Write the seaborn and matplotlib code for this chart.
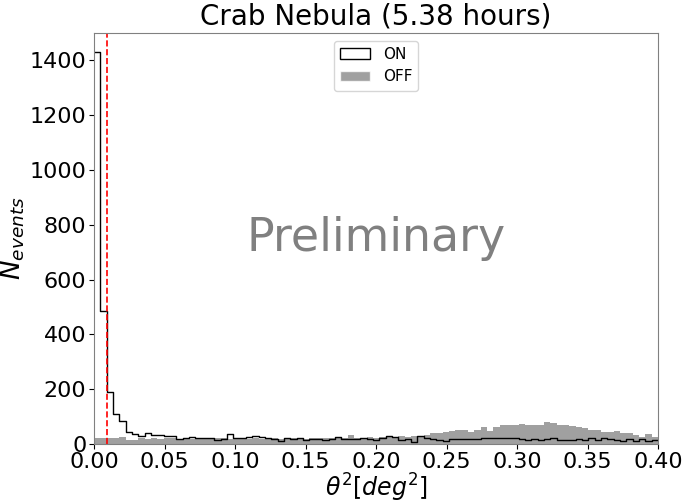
import numpy as np
import pandas as pd
import matplotlib
matplotlib.use("Agg")
import matplotlib.pyplot as plt
from matplotlib.patches import Patch
import seaborn as sns

# theta^2 binning: 89 bins from 0 to 0.4
bin_edges = np.linspace(0, 0.4, 90)
theta2_cut = 0.009

on_counts = [
    1430, 487, 188, 109, 85, 42, 35, 29, 40, 32,
    33, 30, 27, 17, 20, 25, 20, 21, 20, 15,
    17, 36, 20, 22, 26, 27, 24, 22, 19, 11,
    20, 18, 20, 14, 17, 17, 16, 18, 25, 17,
    18, 17, 20, 19, 15, 23, 27, 26, 16, 19,
    8, 27, 21, 19, 14, 12, 17, 17, 18, 18,
    17, 20, 22, 21, 22, 20, 22, 17, 15, 18,
    16, 17, 22, 14, 15, 15, 17, 13, 20, 15,
    20, 18, 14, 12, 17, 10, 18, 12, 14,
]

off_counts = [
    22, 23, 21, 22, 24, 14, 13, 20, 18, 22,
    19, 21, 20, 17, 22, 19, 20, 21, 18, 20,
    22, 19, 21, 20, 18, 21, 19, 22, 20, 19,
    21, 20, 22, 19, 21, 23, 20, 22, 24, 21,
    33, 23, 22, 25, 21, 24, 26, 24, 28, 25,
    30, 27, 32, 40, 38, 45, 46, 51, 50, 45,
    51, 61, 48, 61, 69, 69, 69, 73, 69, 69,
    69, 79, 75, 69, 69, 65, 63, 57, 51, 51,
    45, 45, 48, 39, 39, 33, 24, 36, 24,
]

centers = 0.5 * (bin_edges[:-1] + bin_edges[1:])
df = pd.DataFrame({"theta2": centers, "on": on_counts, "off": off_counts})

sns.set_style("ticks", {"text.color": "black", "axes.labelcolor": "black",
                        "xtick.color": "black", "ytick.color": "black"})
fig, ax = plt.subplots(figsize=(6.84, 5.01), dpi=100)

sns.histplot(data=df, x="theta2", weights="off", bins=list(bin_edges), element="step",
             fill=True, color="grey", alpha=0.75, linewidth=0, ax=ax)
sns.histplot(data=df, x="theta2", weights="on", bins=list(bin_edges), element="step",
             fill=False, color="black", linewidth=1.0, ax=ax)

ax.axvline(theta2_cut, color="red", linestyle="--", linewidth=1.2)

ax.set_xlim(0, 0.4)
ax.set_ylim(0, 1500)
ax.set_xticks(np.arange(0, 0.401, 0.05))
ax.set_xticklabels([f"{v:.2f}" for v in np.arange(0, 0.401, 0.05)])
ax.tick_params(labelsize=16, pad=2)

ax.set_title("Crab Nebula (5.38 hours)", fontsize=20, color="black")
ax.set_xlabel(r"$\theta^2 [deg^2]$", fontsize=17, labelpad=0)
ax.set_ylabel(r"$N_{events}$", fontsize=19, labelpad=2)

for sp in ax.spines.values():
    sp.set_visible(True)
    sp.set_color("0.5")

ax.text(0.5, 0.5, "Preliminary", transform=ax.transAxes, fontsize=33,
        color="grey", ha="center", va="center")

handles = [Patch(facecolor="white", edgecolor="black", label="ON"),
           Patch(facecolor="grey", alpha=0.75, label="OFF")]
ax.legend(handles=handles, loc="upper center", fontsize=11)

plt.subplots_adjust(left=0.1375, right=0.962, top=0.934, bottom=0.114)
plt.savefig("out.png", dpi=100)
